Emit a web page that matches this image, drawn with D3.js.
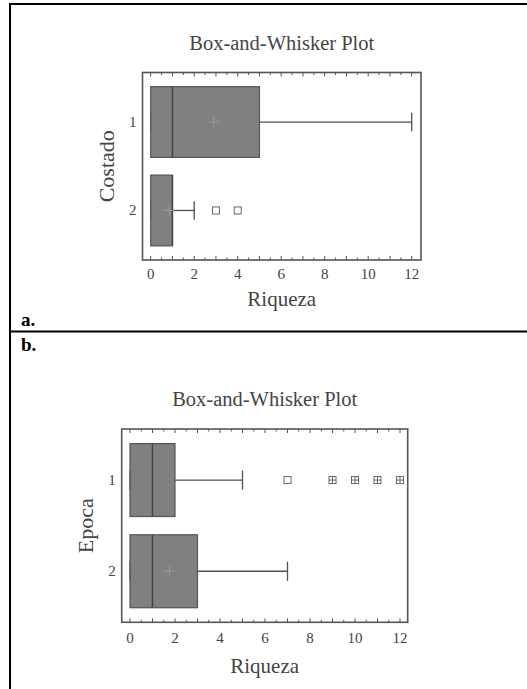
<!DOCTYPE html>
<html>
<head>
<meta charset="utf-8">
<script src="https://cdn.jsdelivr.net/npm/d3@7"></script>
<style>
  body { margin: 0; background: #fff; }
  svg { display: block; }
  text { font-family: "Liberation Serif", "DejaVu Serif", serif; fill: #444; }
  .tag { font-weight: bold; fill: #000; font-size: 19px; }
</style>
</head>
<body>
<div id="chart"></div>
<script>
// Panel a: Riqueza por Costado
const costadoGroups = ["1", "2"];
const costadoQ1 = [0, 0];
const costadoMedian = [1, 1];
const costadoQ3 = [5, 1];
const costadoLow = [0, 0];
const costadoHigh = [12, 2];
const costadoMean = [2.9, 0.85];
const costadoOutliers = [[], [3, 4]];
const costadoFar = [[], []];

// Panel b: Riqueza por Epoca
const epocaGroups = ["1", "2"];
const epocaQ1 = [0, 0];
const epocaMedian = [1, 1];
const epocaQ3 = [2, 3];
const epocaLow = [0, 0];
const epocaHigh = [5, 7];
const epocaMean = [null, 1.75];
const epocaOutliers = [[7], []];
const epocaFar = [[9, 10, 11, 12], []];

const xTicks = [0, 2, 4, 6, 8, 10, 12];

const W = 527, H = 689;
const svg = d3.select("#chart").append("svg").attr("width", W).attr("height", H);

// page frame (table borders)
svg.append("line").attr("x1", 10).attr("x2", W).attr("y1", 4).attr("y2", 4).attr("stroke", "#000").attr("stroke-width", 2);
svg.append("line").attr("x1", 10).attr("x2", 10).attr("y1", 3).attr("y2", H).attr("stroke", "#000").attr("stroke-width", 2);
svg.append("line").attr("x1", 10).attr("x2", W).attr("y1", 331.5).attr("y2", 331.5).attr("stroke", "#000").attr("stroke-width", 2);
svg.append("text").attr("class", "tag").attr("x", 21).attr("y", 326).text("a.");
svg.append("text").attr("class", "tag").attr("x", 21).attr("y", 351).text("b.");

function boxPlot(opt) {
	const g = svg.append("g");
	const { left, right, top, bottom, x0, x12 } = opt;

	const x = d3.scaleLinear().domain([0, 12]).range([x0, x12]);
	const y = d3.scalePoint().domain(opt.groups).range([top, bottom]).padding(0.56);
	const step = y.step();
	const boxH = step * 0.8;
	const capH = step * 0.21;

	// title
	g.append("text")
		.attr("x", (left + right) / 2).attr("y", opt.titleY)
		.attr("text-anchor", "middle").style("font-size", "20.5px")
		.text("Box-and-Whisker Plot");

	// boxes
	const rows = opt.groups.map((k, i) => ({
		k, q1: opt.q1[i], med: opt.med[i], q3: opt.q3[i],
		lo: opt.lo[i], hi: opt.hi[i], mean: opt.mean[i],
		out: opt.out[i], far: opt.far[i]
	}));

	rows.forEach(d => {
		const cy = y(d.k);
		// whiskers
		g.append("line").attr("x1", x(d.q3)).attr("x2", x(d.hi)).attr("y1", cy).attr("y2", cy)
			.attr("stroke", "#505050").attr("stroke-width", 1.3);
		g.append("line").attr("x1", x(d.lo)).attr("x2", x(d.q1)).attr("y1", cy).attr("y2", cy)
			.attr("stroke", "#505050").attr("stroke-width", 1.3);
		g.append("line").attr("x1", x(d.hi)).attr("x2", x(d.hi)).attr("y1", cy - capH / 2).attr("y2", cy + capH / 2)
			.attr("stroke", "#505050").attr("stroke-width", 1.3);

		g.append("rect")
			.attr("x", x(d.q1)).attr("y", cy - boxH / 2)
			.attr("width", x(d.q3) - x(d.q1)).attr("height", boxH)
			.attr("fill", "#808080").attr("stroke", "#555").attr("stroke-width", 1.2);

		g.append("line").attr("x1", x(d.lo)).attr("x2", x(d.lo)).attr("y1", cy - capH / 2).attr("y2", cy + capH / 2)
			.attr("stroke", "#5a5a5a").attr("stroke-width", 1.2);
		g.append("line").attr("x1", x(d.med)).attr("x2", x(d.med)).attr("y1", cy - boxH / 2).attr("y2", cy + boxH / 2)
			.attr("stroke", "#444").attr("stroke-width", 1.5);

		if (d.mean != null) {
			const mx = x(d.mean);
			g.append("path").attr("d", `M${mx - 5},${cy}H${mx + 5}M${mx},${cy - 5}V${cy + 5}`)
				.attr("stroke", "#9a9a9a").attr("stroke-width", 1);
		}

		d.out.forEach(v => {
			g.append("rect").attr("x", x(v) - 3.5).attr("y", cy - 3.5).attr("width", 7).attr("height", 7)
				.attr("fill", "#fff").attr("stroke", "#666").attr("stroke-width", 1);
		});
		d.far.forEach(v => {
			g.append("rect").attr("x", x(v) - 3.5).attr("y", cy - 3.5).attr("width", 7).attr("height", 7)
				.attr("fill", "#fff").attr("stroke", "#666").attr("stroke-width", 1);
			g.append("path").attr("d", `M${x(v) - 3.5},${cy}H${x(v) + 3.5}M${x(v)},${cy - 3.5}V${cy + 3.5}`)
				.attr("stroke", "#666").attr("stroke-width", 1);
		});
	});

	// frame
	g.append("rect").attr("x", left).attr("y", top).attr("width", right - left).attr("height", bottom - top)
		.attr("fill", "none").attr("stroke", "#555").attr("stroke-width", 1.6);

	// inward ticks top and bottom
	const minor = d3.range(0, 12.01, 0.5);
	minor.forEach(v => {
		const len = v % 1 === 0 ? 4 : 2.5;
		g.append("line").attr("x1", x(v)).attr("x2", x(v)).attr("y1", bottom).attr("y2", bottom - len)
			.attr("stroke", "#555").attr("stroke-width", 1);
		g.append("line").attr("x1", x(v)).attr("x2", x(v)).attr("y1", top).attr("y2", top + len)
			.attr("stroke", "#555").attr("stroke-width", 1);
	});

	xTicks.forEach(v => {
		g.append("text").attr("x", x(v)).attr("y", opt.tickY).attr("text-anchor", "middle")
			.style("font-size", "15px").text(v);
	});
	opt.groups.forEach(k => {
		g.append("text").attr("x", left - 6).attr("y", y(k) + 5).attr("text-anchor", "end")
			.style("font-size", "15px").text(k);
	});

	g.append("text")
		.attr("x", (left + right) / 2).attr("y", opt.xTitleY)
		.attr("text-anchor", "middle").style("font-size", "21px")
		.text("Riqueza");

	g.append("text")
		.attr("transform", `translate(${opt.yTitleX},${(top + bottom) / 2}) rotate(-90)`)
		.attr("text-anchor", "middle").style("font-size", "22px")
		.text(opt.yTitle);
}

boxPlot({
	groups: costadoGroups, q1: costadoQ1, med: costadoMedian, q3: costadoQ3,
	lo: costadoLow, hi: costadoHigh, mean: costadoMean, out: costadoOutliers, far: costadoFar,
	left: 142.5, right: 421, top: 72.5, bottom: 260, x0: 150.7, x12: 411.7,
	titleY: 50, tickY: 279, xTitleY: 306, yTitleX: 114, yTitle: "Costado"
});

boxPlot({
	groups: epocaGroups, q1: epocaQ1, med: epocaMedian, q3: epocaQ3,
	lo: epocaLow, hi: epocaHigh, mean: epocaMean, out: epocaOutliers, far: epocaFar,
	left: 121.7, right: 407.7, top: 429, bottom: 622.3, x0: 130, x12: 400,
	titleY: 406, tickY: 643, xTitleY: 672.5, yTitleX: 93, yTitle: "Epoca"
});
</script>
</body>
</html>
